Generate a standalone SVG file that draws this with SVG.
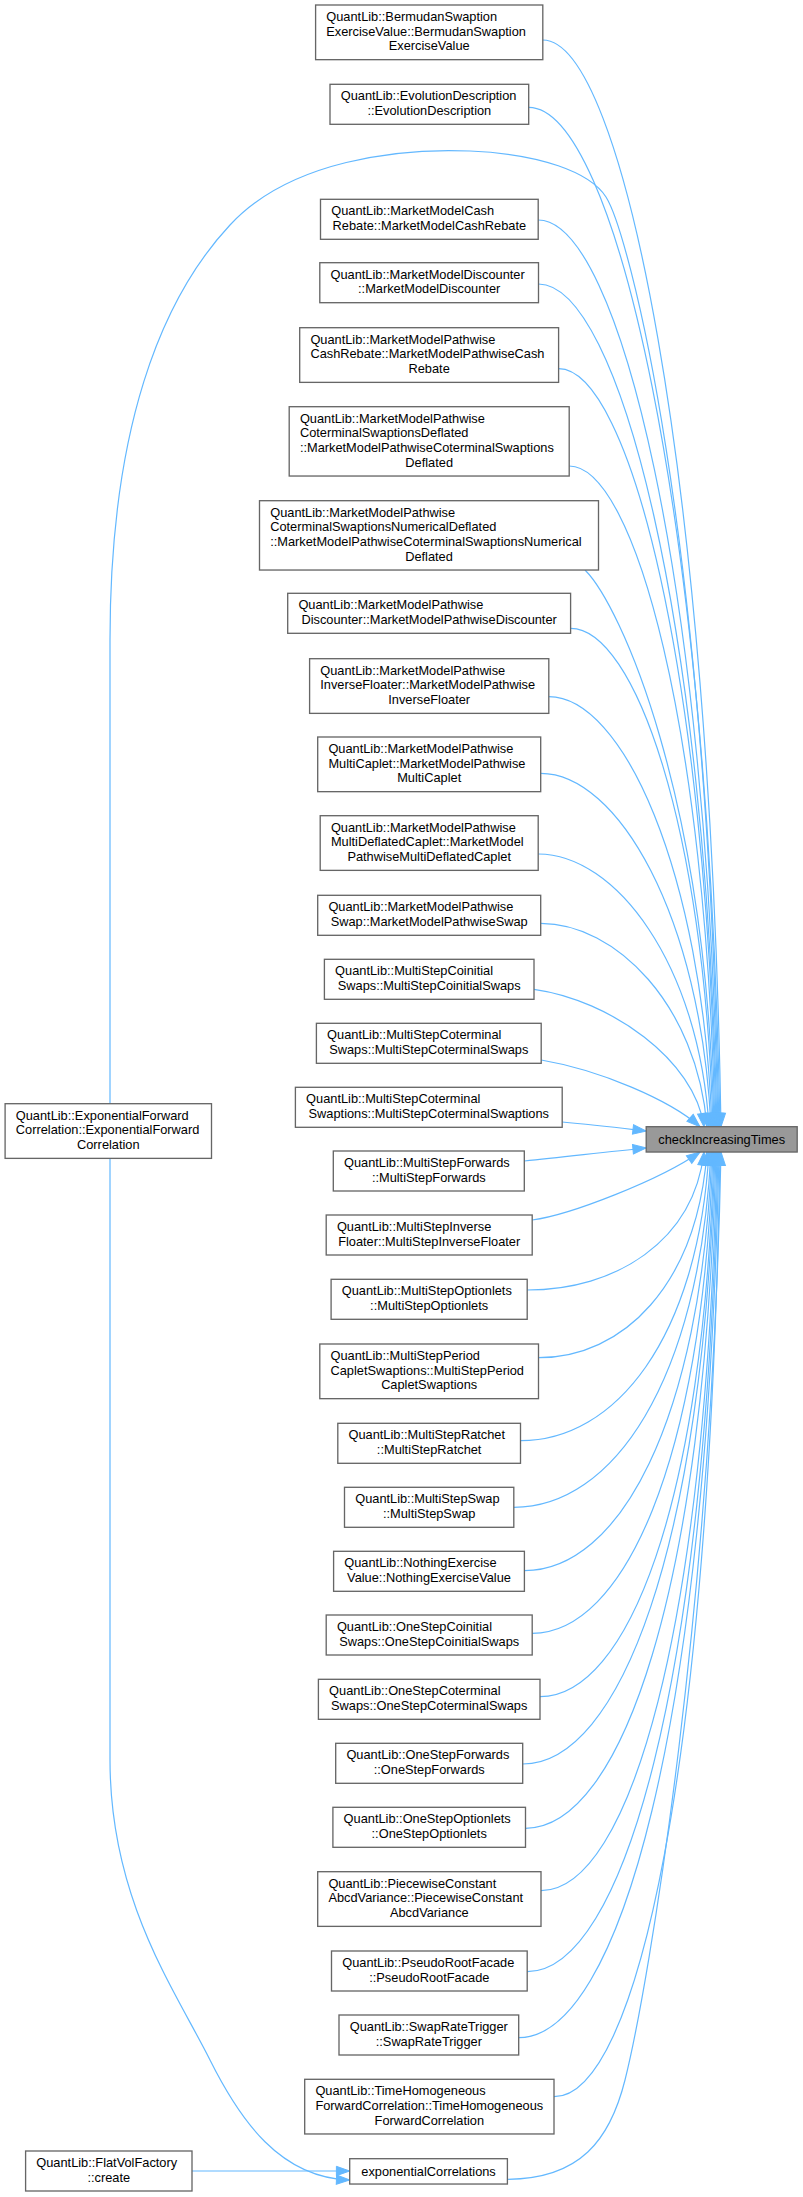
<svg xmlns="http://www.w3.org/2000/svg" width="803" height="2197" viewBox="0 0 803 2197">
<style>
.n rect{fill:#ffffff;stroke:#666666;stroke-width:1.33}
.root rect{fill:#999999;stroke:#666666;stroke-width:1.33}
text{font-family:"Liberation Sans",Arial,Helvetica,sans-serif;font-size:12.8px;fill:#000000}
.m{text-anchor:middle}
.e path{fill:none;stroke:#63b8ff;stroke-width:1.2;marker-end:url(#arr)}
</style>
<defs>
<marker id="arr" markerUnits="userSpaceOnUse" markerWidth="14" markerHeight="10" refX="13.3" refY="5" orient="auto" overflow="visible">
<path d="M0,0.3 L13.3,5 L0,9.7 Z" fill="#63b8ff" stroke="#63b8ff" stroke-width="1"/>
</marker>
</defs>
<rect x="0" y="0" width="803" height="2197" fill="#ffffff"/>
<g id="edges" class="e">
<path d="M542.8,40 C623,40 710.3,474.7 721,1126.7"/>
<path d="M528.7,107.3 C614.8,107.3 708.5,515.1 720,1126.7"/>
<path d="M110,1103.7 V640 C110,430 160,300 230,225 C290,160 400,148 470,151 C540,154 590,172 606,197 C628,232 706,520 719,1126.7"/>
<path d="M538.2,220 C619.1,220 707.2,582.7 718,1126.7"/>
<path d="M538.5,284 C618.8,284 706.3,621.1 717,1126.7"/>
<path d="M558.6,368.7 C629.4,368.7 706.6,671.9 716,1126.7"/>
<path d="M569.2,466 C634.8,466 706.3,730.3 715,1126.7"/>
<path d="M585,570 C620,605 706.3,792.7 714,1126.7"/>
<path d="M570.6,628.3 C634.7,628.3 704.5,827.7 713,1126.7"/>
<path d="M548.8,696.7 C622.2,696.7 702.2,868.7 712,1126.7"/>
<path d="M540.7,773.3 C617.3,773.3 700.8,914.7 711,1126.7"/>
<path d="M538.2,854 C615.1,854 698.8,963.1 709,1126.7"/>
<path d="M540.7,923.3 C615.5,923.3 697,1004.7 707,1126.7"/>
<path d="M534,989.3 C610,1000 695,1060 704,1126.7"/>
<path d="M541.2,1060 C600,1070 670,1100 700,1126.7"/>
<path d="M562.2,1122 C595,1125 620,1128 646.2,1131"/>
<path d="M524.3,1161 C565,1157 605,1152 646.2,1148"/>
<path d="M532.2,1220 C570,1215 660,1180 700,1152"/>
<path d="M527.2,1290 C615.6,1290 693.4,1241.7 704,1152"/>
<path d="M538.5,1357.7 C622.8,1357.7 696.9,1285.7 707,1152"/>
<path d="M520.5,1440.7 C614.8,1440.7 697.7,1339.7 709,1152"/>
<path d="M513.8,1507.3 C612.4,1507.3 699.2,1382.9 711,1152"/>
<path d="M524.4,1570.7 C618.2,1570.7 700.7,1424.2 712,1152"/>
<path d="M532.2,1633.3 C622.6,1633.3 702.2,1464.8 713,1152"/>
<path d="M540,1696.7 C627,1696.7 703.6,1506 714,1152"/>
<path d="M522.7,1764 C618.9,1764 703.5,1549.8 715,1152"/>
<path d="M525.5,1828.3 C620.8,1828.3 704.6,1591.6 716,1152"/>
<path d="M541,1890.7 C629,1890.7 706.4,1632.2 717,1152"/>
<path d="M527.2,1971.7 C622.6,1971.7 706.6,1684.8 718,1152"/>
<path d="M518.7,2037.7 C618.9,2037.7 707,1727.7 719,1152"/>
<path d="M554,2096.7 C637,2096.7 710,1766.1 720,1152"/>
<path d="M507.4,2179.3 C580,2179 610,2140 625,2080 C650,1980 712,1600 721,1152"/>
<path d="M110,1158.3 V1760 C110,1900 175,1990 210,2060 C240,2120 280,2178 349.7,2180"/>
<path d="M192,2171 L349.7,2171"/>
</g>
<g id="node_target" class="root"><rect x="646.2" y="1126.7" width="151" height="25.33"/><text class="m" x="721.7" y="1144">checkIncreasingTimes</text></g>
<g id="node1" class="n"><rect x="315.6" y="5" width="227.2" height="54.67"/><text x="326.3" y="21">QuantLib::BermudanSwaption</text><text x="326.3" y="35.67">ExerciseValue::BermudanSwaption</text><text class="m" x="429.2" y="50.33">ExerciseValue</text></g>
<g id="node2" class="n"><rect x="330" y="84.3" width="198.7" height="40"/><text x="340.7" y="100.3">QuantLib::EvolutionDescription</text><text class="m" x="429.35" y="115">::EvolutionDescription</text></g>
<g id="node3" class="n"><rect x="320.5" y="199.3" width="217.7" height="40"/><text x="331.2" y="215.3">QuantLib::MarketModelCash</text><text class="m" x="429.35" y="230">Rebate::MarketModelCashRebate</text></g>
<g id="node4" class="n"><rect x="319.8" y="262.7" width="218.7" height="40"/><text x="330.5" y="278.7">QuantLib::MarketModelDiscounter</text><text class="m" x="429.15" y="293.4">::MarketModelDiscounter</text></g>
<g id="node5" class="n"><rect x="299.7" y="327.7" width="258.9" height="54.67"/><text x="310.4" y="343.7">QuantLib::MarketModelPathwise</text><text x="310.4" y="358.4">CashRebate::MarketModelPathwiseCash</text><text class="m" x="429.15" y="373">Rebate</text></g>
<g id="node6" class="n"><rect x="289.2" y="406.7" width="280" height="69.33"/><text x="299.9" y="422.7">QuantLib::MarketModelPathwise</text><text x="299.9" y="437.4">CoterminalSwaptionsDeflated</text><text x="299.9" y="452">::MarketModelPathwiseCoterminalSwaptions</text><text class="m" x="429.2" y="466.7">Deflated</text></g>
<g id="node7" class="n"><rect x="259.5" y="500.7" width="339" height="69.33"/><text x="270.2" y="516.7">QuantLib::MarketModelPathwise</text><text x="270.2" y="531.4">CoterminalSwaptionsNumericalDeflated</text><text x="270.2" y="546">::MarketModelPathwiseCoterminalSwaptionsNumerical</text><text class="m" x="429" y="560.7">Deflated</text></g>
<g id="node8" class="n"><rect x="287.7" y="593.3" width="282.9" height="40"/><text x="298.4" y="609.3">QuantLib::MarketModelPathwise</text><text class="m" x="429.15" y="624">Discounter::MarketModelPathwiseDiscounter</text></g>
<g id="node9" class="n"><rect x="309.6" y="658.7" width="239.2" height="54.67"/><text x="320.3" y="674.7">QuantLib::MarketModelPathwise</text><text x="320.3" y="689.4">InverseFloater::MarketModelPathwise</text><text class="m" x="429.2" y="704">InverseFloater</text></g>
<g id="node10" class="n"><rect x="317.7" y="737" width="223" height="54.67"/><text x="328.4" y="753">QuantLib::MarketModelPathwise</text><text x="328.4" y="767.7">MultiCaplet::MarketModelPathwise</text><text class="m" x="429.2" y="782.3">MultiCaplet</text></g>
<g id="node11" class="n"><rect x="320.2" y="815.7" width="218" height="54.67"/><text x="330.9" y="831.7">QuantLib::MarketModelPathwise</text><text x="330.9" y="846.4">MultiDeflatedCaplet::MarketModel</text><text class="m" x="429.2" y="861">PathwiseMultiDeflatedCaplet</text></g>
<g id="node12" class="n"><rect x="317.7" y="895.3" width="223" height="40"/><text x="328.4" y="911.3">QuantLib::MarketModelPathwise</text><text class="m" x="429.2" y="926">Swap::MarketModelPathwiseSwap</text></g>
<g id="node13" class="n"><rect x="324.4" y="959.3" width="209.6" height="40"/><text x="335.1" y="975.3">QuantLib::MultiStepCoinitial</text><text class="m" x="429.2" y="990">Swaps::MultiStepCoinitialSwaps</text></g>
<g id="node14" class="n"><rect x="316.4" y="1023.3" width="224.8" height="40"/><text x="327.1" y="1039.3">QuantLib::MultiStepCoterminal</text><text class="m" x="428.8" y="1054">Swaps::MultiStepCoterminalSwaps</text></g>
<g id="node15" class="n"><rect x="295.4" y="1087.3" width="266.8" height="40"/><text x="306.1" y="1103.3">QuantLib::MultiStepCoterminal</text><text class="m" x="428.8" y="1118">Swaptions::MultiStepCoterminalSwaptions</text></g>
<g id="node16" class="n"><rect x="333.3" y="1151" width="191" height="40"/><text x="344" y="1167">QuantLib::MultiStepForwards</text><text class="m" x="428.8" y="1181.7">::MultiStepForwards</text></g>
<g id="node17" class="n"><rect x="326.2" y="1215" width="206" height="40"/><text x="336.9" y="1231">QuantLib::MultiStepInverse</text><text class="m" x="429.2" y="1245.7">Floater::MultiStepInverseFloater</text></g>
<g id="node18" class="n"><rect x="331.1" y="1279.3" width="196.1" height="40"/><text x="341.8" y="1295.3">QuantLib::MultiStepOptionlets</text><text class="m" x="429.15" y="1310">::MultiStepOptionlets</text></g>
<g id="node19" class="n"><rect x="319.8" y="1344" width="218.7" height="54.67"/><text x="330.5" y="1360">QuantLib::MultiStepPeriod</text><text x="330.5" y="1374.7">CapletSwaptions::MultiStepPeriod</text><text class="m" x="429.15" y="1389.3">CapletSwaptions</text></g>
<g id="node20" class="n"><rect x="337.8" y="1423.3" width="182.7" height="40"/><text x="348.5" y="1439.3">QuantLib::MultiStepRatchet</text><text class="m" x="429.15" y="1454">::MultiStepRatchet</text></g>
<g id="node21" class="n"><rect x="344.5" y="1487.3" width="169.3" height="40"/><text x="355.2" y="1503.3">QuantLib::MultiStepSwap</text><text class="m" x="429.15" y="1518">::MultiStepSwap</text></g>
<g id="node22" class="n"><rect x="333.6" y="1551.3" width="190.8" height="40"/><text x="344.3" y="1567.3">QuantLib::NothingExercise</text><text class="m" x="429" y="1582">Value::NothingExerciseValue</text></g>
<g id="node23" class="n"><rect x="326.2" y="1615" width="206" height="40"/><text x="336.9" y="1631">QuantLib::OneStepCoinitial</text><text class="m" x="429.2" y="1645.7">Swaps::OneStepCoinitialSwaps</text></g>
<g id="node24" class="n"><rect x="318.4" y="1679.3" width="221.6" height="40"/><text x="329.1" y="1695.3">QuantLib::OneStepCoterminal</text><text class="m" x="429.2" y="1710">Swaps::OneStepCoterminalSwaps</text></g>
<g id="node25" class="n"><rect x="335.7" y="1743.3" width="187" height="40"/><text x="346.4" y="1759.3">QuantLib::OneStepForwards</text><text class="m" x="429.2" y="1774">::OneStepForwards</text></g>
<g id="node26" class="n"><rect x="332.9" y="1807.3" width="192.6" height="40"/><text x="343.6" y="1823.3">QuantLib::OneStepOptionlets</text><text class="m" x="429.2" y="1838">::OneStepOptionlets</text></g>
<g id="node27" class="n"><rect x="317.7" y="1871.7" width="223.3" height="54.67"/><text x="328.4" y="1887.7">QuantLib::PiecewiseConstant</text><text x="328.4" y="1902.4">AbcdVariance::PiecewiseConstant</text><text class="m" x="429.35" y="1917">AbcdVariance</text></g>
<g id="node28" class="n"><rect x="331.5" y="1951" width="195.7" height="40"/><text x="342.2" y="1967">QuantLib::PseudoRootFacade</text><text class="m" x="429.35" y="1981.7">::PseudoRootFacade</text></g>
<g id="node29" class="n"><rect x="339" y="2015" width="179.7" height="40"/><text x="349.7" y="2031">QuantLib::SwapRateTrigger</text><text class="m" x="428.85" y="2045.7">::SwapRateTrigger</text></g>
<g id="node30" class="n"><rect x="304.7" y="2079.3" width="249.3" height="54.67"/><text x="315.4" y="2095.3">QuantLib::TimeHomogeneous</text><text x="315.4" y="2110">ForwardCorrelation::TimeHomogeneous</text><text class="m" x="429.35" y="2124.6">ForwardCorrelation</text></g>
<g id="node31" class="n"><rect x="349.7" y="2158.7" width="157.7" height="25.33"/><text class="m" x="428.55" y="2176">exponentialCorrelations</text></g>
<g id="node32" class="n"><rect x="5.1" y="1103.7" width="206.4" height="54.67"/><text x="15.8" y="1119.7">QuantLib::ExponentialForward</text><text x="15.8" y="1134.4">Correlation::ExponentialForward</text><text class="m" x="108.3" y="1149">Correlation</text></g>
<g id="node33" class="n"><rect x="25.6" y="2151" width="166.4" height="40"/><text x="36.3" y="2167">QuantLib::FlatVolFactory</text><text class="m" x="108.8" y="2181.7">::create</text></g>
</svg>
